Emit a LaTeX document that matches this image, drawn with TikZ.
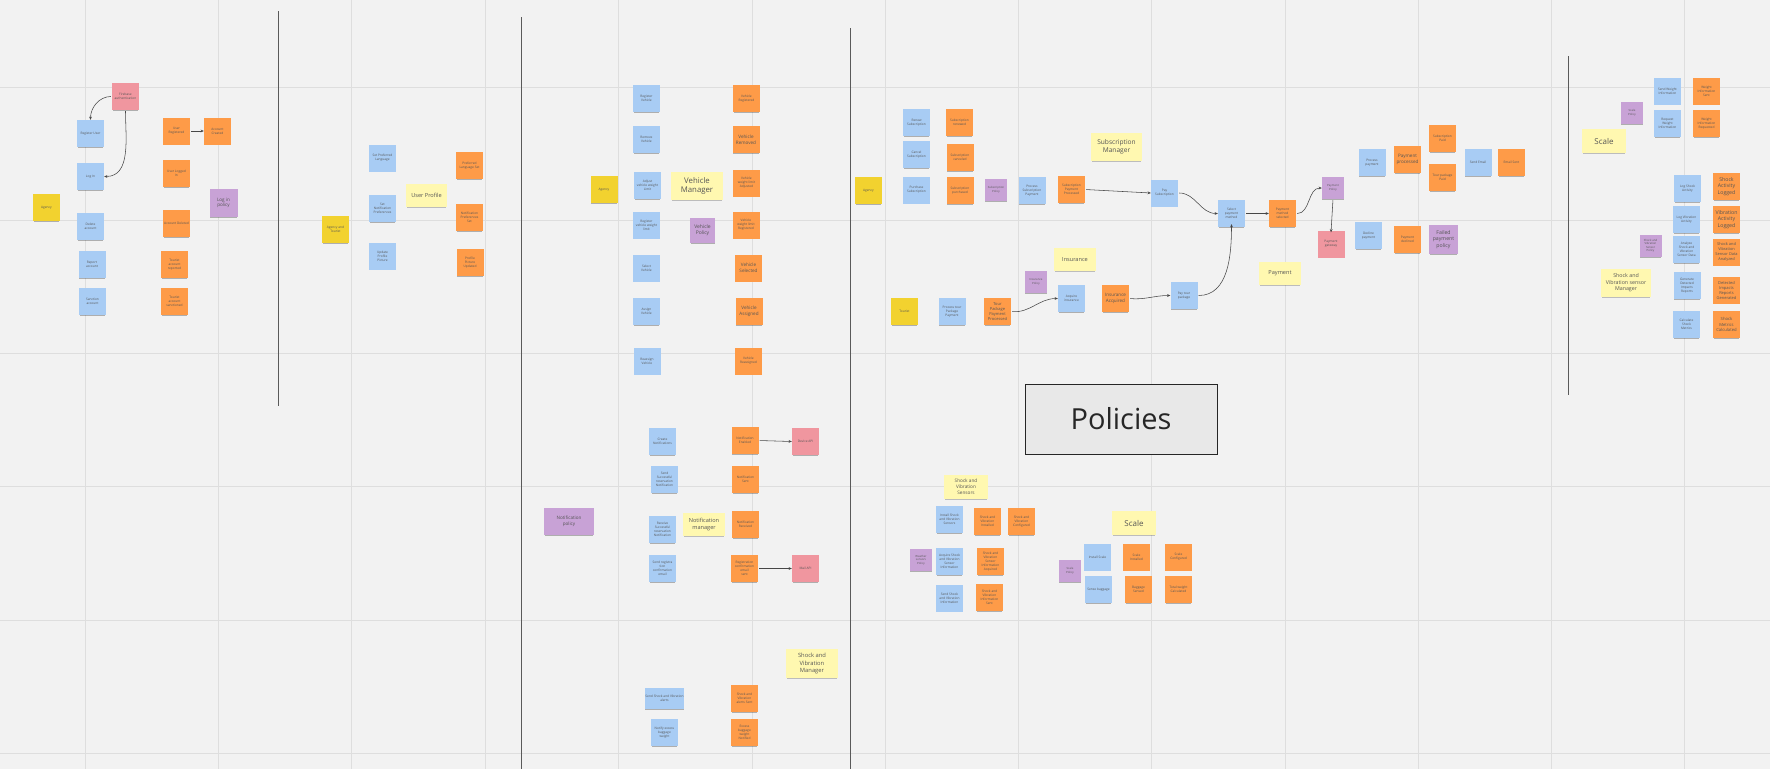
\documentclass[tikz,border=0pt]{standalone}
\usepackage{fontspec}
\setmainfont{Open Sans}
\usetikzlibrary{shadows,arrows.meta}
\definecolor{bgc}{HTML}{F2F2F2}
\definecolor{gridc}{HTML}{DEDEDE}
\definecolor{sepc}{HTML}{5A5A5A}
\definecolor{bnote}{HTML}{A8CCF4}
\definecolor{onote}{HTML}{FE9B48}
\definecolor{ynote}{HTML}{F2D22F}
\definecolor{lnote}{HTML}{FFF8B0}
\definecolor{pnote}{HTML}{C8A2D6}
\definecolor{rnote}{HTML}{F0969F}
\definecolor{txtc}{HTML}{555555}
\newcommand{\fsm}{\fontsize{3.2}{4.0}\selectfont}
\newcommand{\fmd}{\fontsize{4.6}{5.6}\selectfont}
\newcommand{\fbg}{\fontsize{5.4}{6.6}\selectfont}
\tikzset{
  note/.style={rectangle, minimum width=27pt, minimum height=27pt, inner sep=0.8pt,
    align=center, text=txtc, font=\fsm,
    drop shadow={shadow xshift=0pt, shadow yshift=-1.4pt, opacity=0.28, fill=black, shadow scale=0.96}},
  bn/.style={note, fill=bnote},
  on/.style={note, fill=onote},
  yn/.style={note, fill=ynote},
  pn/.style={note, fill=pnote},
  sp/.style={note, fill=pnote, minimum width=22pt, minimum height=22pt, font=\fontsize{2.8}{3.5}\selectfont},
  rn/.style={note, fill=rnote},
  lab/.style={rectangle, fill=lnote, text=txtc, align=center, inner sep=0.5pt,
    drop shadow={shadow xshift=0pt, shadow yshift=-1.4pt, opacity=0.22, fill=black, shadow scale=0.97}},
  arr/.style={-{Stealth[length=3.2pt,width=2.8pt]}, draw=black!72, line width=0.55pt, shorten <=1pt},
  gridl/.style={draw=gridc, line width=0.9pt},
  sepl/.style={draw=sepc, line width=1pt}
}
\begin{document}
\begin{tikzpicture}[x=1pt,y=-1pt]
\useasboundingbox (0,0) rectangle (1770,769);
\fill[bgc] (0,0) rectangle (1770,769);
% grid
\foreach \gx in {85,218,351,485,618,752,885,1018,1151,1285,1418,1551,1684}
  \draw[gridl] (\gx,0) -- (\gx,769);
\foreach \gy in {87,220,353,486,620,753}
  \draw[gridl] (0,\gy) -- (1770,\gy);
% separators
\draw[sepl] (278,11) -- (278,406);
\draw[sepl] (521.5,17) -- (521.5,769);
\draw[sepl] (850,28) -- (850,769);
\draw[sepl] (1568,56) -- (1568,395);

% ---------- Section 1: accounts ----------
\node[rn] (fb) at (125.5,96.5) {Firebase\\authentication};
\node[bn] (regu) at (90.5,133.5) {Register User};
\node[bn] (login) at (90.5,176.5) {Log In};
\node[yn] (ag1) at (46.5,207.5) {Agency};
\node[bn] (delacc) at (90.5,226.5) {Delete\\account};
\node[bn] (repacc) at (92,264.5) {Report\\account};
\node[bn] (sanacc) at (92.5,301.5) {Sanction\\account};
\node[on] (ureg) at (176.5,131) {User\\Registered};
\node[on] (accc) at (217.5,131) {Account\\Created};
\node[on] (ulog) at (176.5,173.5) {User Logged\\In};
\node[pn, minimum width=28pt, minimum height=28pt, font=\fmd] (lip) at (223.5,203) {Log in\\policy};
\node[on] (accd) at (176.5,223.5) {Account Deleted};
\node[on] (tar) at (174.5,264.5) {Tourist\\account\\reported};
\node[on] (tas) at (174.5,301.5) {Tourist\\account\\sanctioned};
\draw[arr] (fb.west) to[out=180,in=90] (regu.north);
\draw[arr] (fb.south) to[out=-90,in=0] (login.east);
\draw[arr] (ureg.east) -- (accc.west);

% ---------- Section 2: user profile ----------
\node[yn] (ag2) at (335.5,229.5) {Agency and\\Tourist};
\node[bn] (spl) at (382.5,158) {Set Preferred\\Language};
\node[bn] (snp) at (382.5,208.5) {Set\\Notification\\Preferences};
\node[bn] (upp) at (382.5,256) {Update\\Profile\\Picture};
\node[lab, minimum width=41pt, minimum height=23pt, font=\fontsize{5.6}{6.6}\selectfont] (up) at (426.5,195.5) {User Profile};
\node[on] (pls) at (469.5,165.5) {Preferred\\Language Set};
\node[on] (nps) at (469.5,217.5) {Notification\\Preferences\\Set};
\node[on] (ppu) at (470,262.5) {Profile\\Picture\\Updated};

% ---------- Section 3: vehicles ----------
\node[bn] (rv) at (646.5,98.5) {Register\\Vehicle};
\node[bn] (rmv) at (646.5,139.5) {Remove\\Vehicle};
\node[yn] (ag3) at (604,189.5) {Agency};
\node[bn] (avwl) at (647.5,185.5) {Adjust\\vehicle weight\\Limit};
\node[lab, minimum width=52pt, minimum height=28pt, font=\fontsize{7.8}{9.4}\selectfont] (vm) at (697,186) {Vehicle\\Manager};
\node[bn] (rvwl) at (646.5,225) {Register\\vehicle weight\\limit};
\node[pn, minimum width=25pt, minimum height=25pt, font=\fontsize{5}{6}\selectfont] (vp) at (702.5,230.5) {Vehicle\\Policy};
\node[on] (vreg) at (746.5,98.5) {Vehicle\\Registered};
\node[on, font=\fmd] (vrem) at (746,139.5) {Vehicle\\Removed};
\node[on] (vadj) at (746.5,183) {Vehicle\\weight limit\\Adjusted};
\node[on] (vwreg) at (746,225) {Vehicle\\weight limit\\Registered};
\node[bn] (sv) at (646.5,268) {Select\\Vehicle};
\node[bn] (asv) at (646.5,311.5) {Assign\\Vehicle};
\node[bn] (rasv) at (647,361) {Reassign\\Vehicle};
\node[on, font=\fmd] (vsel) at (748.5,268) {Vehicle\\Selected};
\node[on, font=\fmd] (vass) at (749,311.5) {Vehicle\\Assigned};
\node[on] (vrass) at (748.5,361) {Vehicle\\Reassigned};

% ---------- Notifications ----------
\node[pn, minimum width=50pt, minimum height=27pt, font=\fontsize{4.6}{5.8}\selectfont] (np) at (569,521.5) {Notification\\policy};
\node[bn] (cn) at (662.5,441.5) {Create\\Notifications};
\node[bn] (ssrn) at (664.5,479.5) {Send\\Successful\\reservation\\Notification};
\node[bn] (rsrn) at (662.5,529.5) {Receive\\Successful\\reservation\\Notification};
\node[lab, minimum width=42pt, minimum height=23pt, font=\fontsize{5.6}{6.8}\selectfont] (nm) at (704,524.5) {Notification\\manager};
\node[bn] (srce) at (662.5,568.5) {Send registra\\tion\\confirmation\\email};
\node[on] (nen) at (745,440.5) {Notification\\Enabled};
\node[on] (nsent) at (745.5,479.5) {Notification\\Sent};
\node[on] (nrec) at (745.5,524.5) {Notification\\Received};
\node[on] (rces) at (744.5,568.5) {Registration\\confirmation\\email\\sent};
\node[rn] (dapi) at (805.5,441.5) {Device API};
\node[rn] (mapi) at (805.5,568.5) {Mail API};
\draw[arr] (nen.east) -- (dapi.west);
\draw[arr] (rces.east) -- (mapi.west);

% ---------- Shock bottom ----------
\node[lab, minimum width=52pt, minimum height=29pt, font=\fontsize{5.8}{7.2}\selectfont] (svm) at (812,663.5) {Shock and\\Vibration\\Manager};
\node[bn, minimum width=39pt, minimum height=21pt] (ssva) at (664.5,698.5) {Send Shock and Vibration\\alerts};
\node[bn] (nebw) at (664.5,732.5) {Notify excess\\baggage\\weight};
\node[on] (svas) at (744.5,698.5) {Shock and\\Vibration\\alerts Sent};
\node[on] (ebwn) at (744.5,732.5) {Excess\\baggage\\weight\\Notified};

% ---------- Subscriptions ----------
\node[bn] (rens) at (916.5,122.5) {Renew\\Subscription};
\node[bn] (cans) at (916.5,154.5) {Cancel\\Subscription};
\node[bn] (purs) at (916.5,190) {Purchase\\Subscription};
\node[yn] (ag4) at (868.5,190.5) {Agency};
\node[on] (srenw) at (959.5,122.5) {Subscription\\renewed};
\node[on] (scanc) at (960,157.5) {Subscription\\canceled};
\node[on] (spurc) at (960,190.5) {Subscription\\purchased};
\node[sp] (subp) at (996,190) {Subscription\\Policy};
\node[bn] (psp) at (1032,190.5) {Process\\Subscription\\Payment};
\node[on] (sppr) at (1071.5,189.5) {Subscription\\Payment\\Processed};
\node[lab, minimum width=51pt, minimum height=28pt, font=\fontsize{6.6}{8.2}\selectfont] (sm) at (1116.5,147) {Subscription\\Manager};

% ---------- Insurance ----------
\node[yn] (tour) at (904.5,311.5) {Tourist};
\node[bn] (ptpp) at (952,311.5) {Process tour\\Package\\Payment};
\node[on, font=\fontsize{4}{5}\selectfont] (tppp) at (997.5,311.5) {Tour\\Package\\Payment\\Processed};
\node[sp] (insp) at (1036,282) {Insurance\\Policy};
\node[lab, minimum width=42pt, minimum height=23pt, font=\fontsize{5.6}{6.8}\selectfont] (ins) at (1075,259.5) {Insurance};
\node[bn] (acqi) at (1071.5,298.5) {Acquire\\insurance};
\node[on, font=\fmd] (insa) at (1115.5,298.5) {Insurance\\Acquired};
\node[bn] (ptp) at (1184,295.5) {Pay tour\\package};
\draw[arr] (tppp.east) to[out=-5,in=180] (acqi.west);
\draw[arr] (insa.east) to[out=-5,in=180] (ptp.west);

% ---------- Payment ----------
\node[bn] (psub) at (1164.5,193) {Pay\\Subscription};
\node[bn] (spm) at (1231.5,213.5) {Select\\payment\\method};
\node[on] (pms) at (1282.5,213.5) {Payment\\method\\selected};
\node[sp] (ppol) at (1333,188) {Payment\\Policy};
\node[rn] (pgw) at (1331,244) {Payment\\gateway};
\node[bn] (prp) at (1372,162.5) {Process\\payment};
\node[on, font=\fmd] (ppr) at (1407.5,159.5) {Payment\\processed};
\node[on] (spaid) at (1442.5,138.5) {Subscription\\Paid};
\node[on] (tpaid) at (1442.5,177.5) {Tour package\\Paid};
\node[bn] (semail) at (1478,162.5) {Send Email};
\node[on] (esent) at (1511.5,162.5) {Email Sent};
\node[bn] (decp) at (1368.5,235.5) {Decline\\payment};
\node[on] (pdec) at (1407.5,239.5) {Payment\\declined};
\node[pn, minimum width=29pt, minimum height=29pt, font=\fontsize{5.2}{6.4}\selectfont] (fpp) at (1443.5,239.5) {Failed\\payment\\policy};
\node[lab, minimum width=42pt, minimum height=23pt, font=\fontsize{5.6}{6.8}\selectfont] (paylab) at (1280,273.5) {Payment};
\draw[arr] (sppr.east) -- (psub.west);
\draw[arr] (psub.east) to[out=0,in=180] (spm.west);
\draw[arr] (spm.east) -- (pms.west);
\draw[arr] (pms.east) to[out=0,in=180] (ppol.west);
\draw[arr] (ppol.south) -- ([yshift=-2pt]pgw.north);
\draw[arr] (ptp.east) to[out=0,in=-90] ([yshift=3pt]spm.south);

% ---------- Shock and vibration sensors ----------
\node[lab, minimum width=44pt, minimum height=24pt, font=\fontsize{4.7}{5.8}\selectfont] (svs) at (966,487) {Shock and\\Vibration\\Sensors};
\node[bn] (isvs) at (949.5,519.5) {Install Shock\\and Vibration\\Sensors};
\node[on] (svi) at (987.5,521.5) {Shock and\\Vibration\\Installed};
\node[on] (svc) at (1021.5,521.5) {Shock and\\Vibration\\Configured};
\node[sp] (wsp) at (921,560) {Weather\\sensors\\Policy};
\node[bn] (asvsi) at (949.5,561.5) {Acquire Shock\\and Vibration\\Sensor\\Information};
\node[on] (svsia) at (990.5,561.5) {Shock and\\Vibration\\Sensor\\Information\\Acquired};
\node[bn] (ssvi) at (949.5,598) {Send Shock\\and Vibration\\Information};
\node[on] (svis) at (989.5,597.5) {Shock and\\Vibration\\Information\\Sent};

% ---------- Scale (middle) ----------
\node[lab, minimum width=44pt, minimum height=24pt, font=\fontsize{8}{9.6}\selectfont] (scl1) at (1134,523) {Scale};
\node[sp] (scp1) at (1070,571) {Scale\\Policy};
\node[bn] (iscl) at (1097.5,557) {Install Scale};
\node[bn] (sbag) at (1098.5,589.5) {Sense baggage};
\node[on] (scli) at (1136.5,557) {Scale\\Installed};
\node[on] (sclc) at (1178.5,557) {Scale\\Configured};
\node[on] (bags) at (1138.5,589.5) {Baggage\\Sensed};
\node[on] (twc) at (1178.5,589.5) {Total weight\\Calculated};

% ---------- Policies ----------
\node[rectangle, draw=black!85, line width=0.7pt, fill=black!9, minimum width=192pt, minimum height=70pt,
  font=\fontsize{29}{34}\selectfont, text=black!85, inner sep=0] (pol) at (1121,419) {Policies};

% ---------- Right: scale + shock sensor manager ----------
\node[sp] (scp2) at (1632,113) {Scale\\Policy};
\node[lab, minimum width=44pt, minimum height=24pt, font=\fontsize{8}{9.6}\selectfont] (scl2) at (1604,141) {Scale};
\node[bn] (swi) at (1667.5,91) {Send Weight\\Information};
\node[bn] (rwi) at (1667.5,123.5) {Request\\Weight\\Information};
\node[on] (wis) at (1706.5,91) {Weight\\Information\\Sent};
\node[on] (wir) at (1706.5,123.5) {Weight\\Information\\Requested};
\node[bn] (lsa) at (1687.5,188.5) {Log Shock\\Activity};
\node[on, font=\fontsize{5.2}{6.4}\selectfont] (sal) at (1726.5,186.5) {Shock\\Activity\\Logged};
\node[bn] (lva) at (1686.5,219.5) {Log Vibration\\Activity};
\node[on, font=\fontsize{5.2}{6.4}\selectfont] (val) at (1726.5,219.5) {Vibration\\Activity\\Logged};
\node[sp] (svsp) at (1650.5,246) {Shock and\\Vibration\\Sensor\\Policy};
\node[bn] (asvd) at (1686.5,249.5) {Analyze\\Shock and\\Vibration\\Sensor Data};
\node[on, font=\fontsize{3.9}{4.8}\selectfont] (svda) at (1726.5,252) {Shock and\\Vibration\\Sensor Data\\Analyzed};
\node[lab, minimum width=50pt, minimum height=28pt, font=\fontsize{5.3}{6.6}\selectfont] (svsm) at (1626,283) {Shock and\\Vibration sensor\\Manager};
\node[bn] (gdir) at (1687,285.5) {Generate\\Detected\\Impacts\\Reports};
\node[on, font=\fontsize{4}{5}\selectfont] (dirg) at (1726.5,290) {Detected\\Impacts\\Reports\\Generated};
\node[bn] (csm) at (1686.5,324.5) {Calculate\\Shock\\Metrics};
\node[on, font=\fontsize{4.2}{5.2}\selectfont] (smc) at (1726.5,324.5) {Shock\\Metrics\\Calculated};
\end{tikzpicture}
\end{document}
